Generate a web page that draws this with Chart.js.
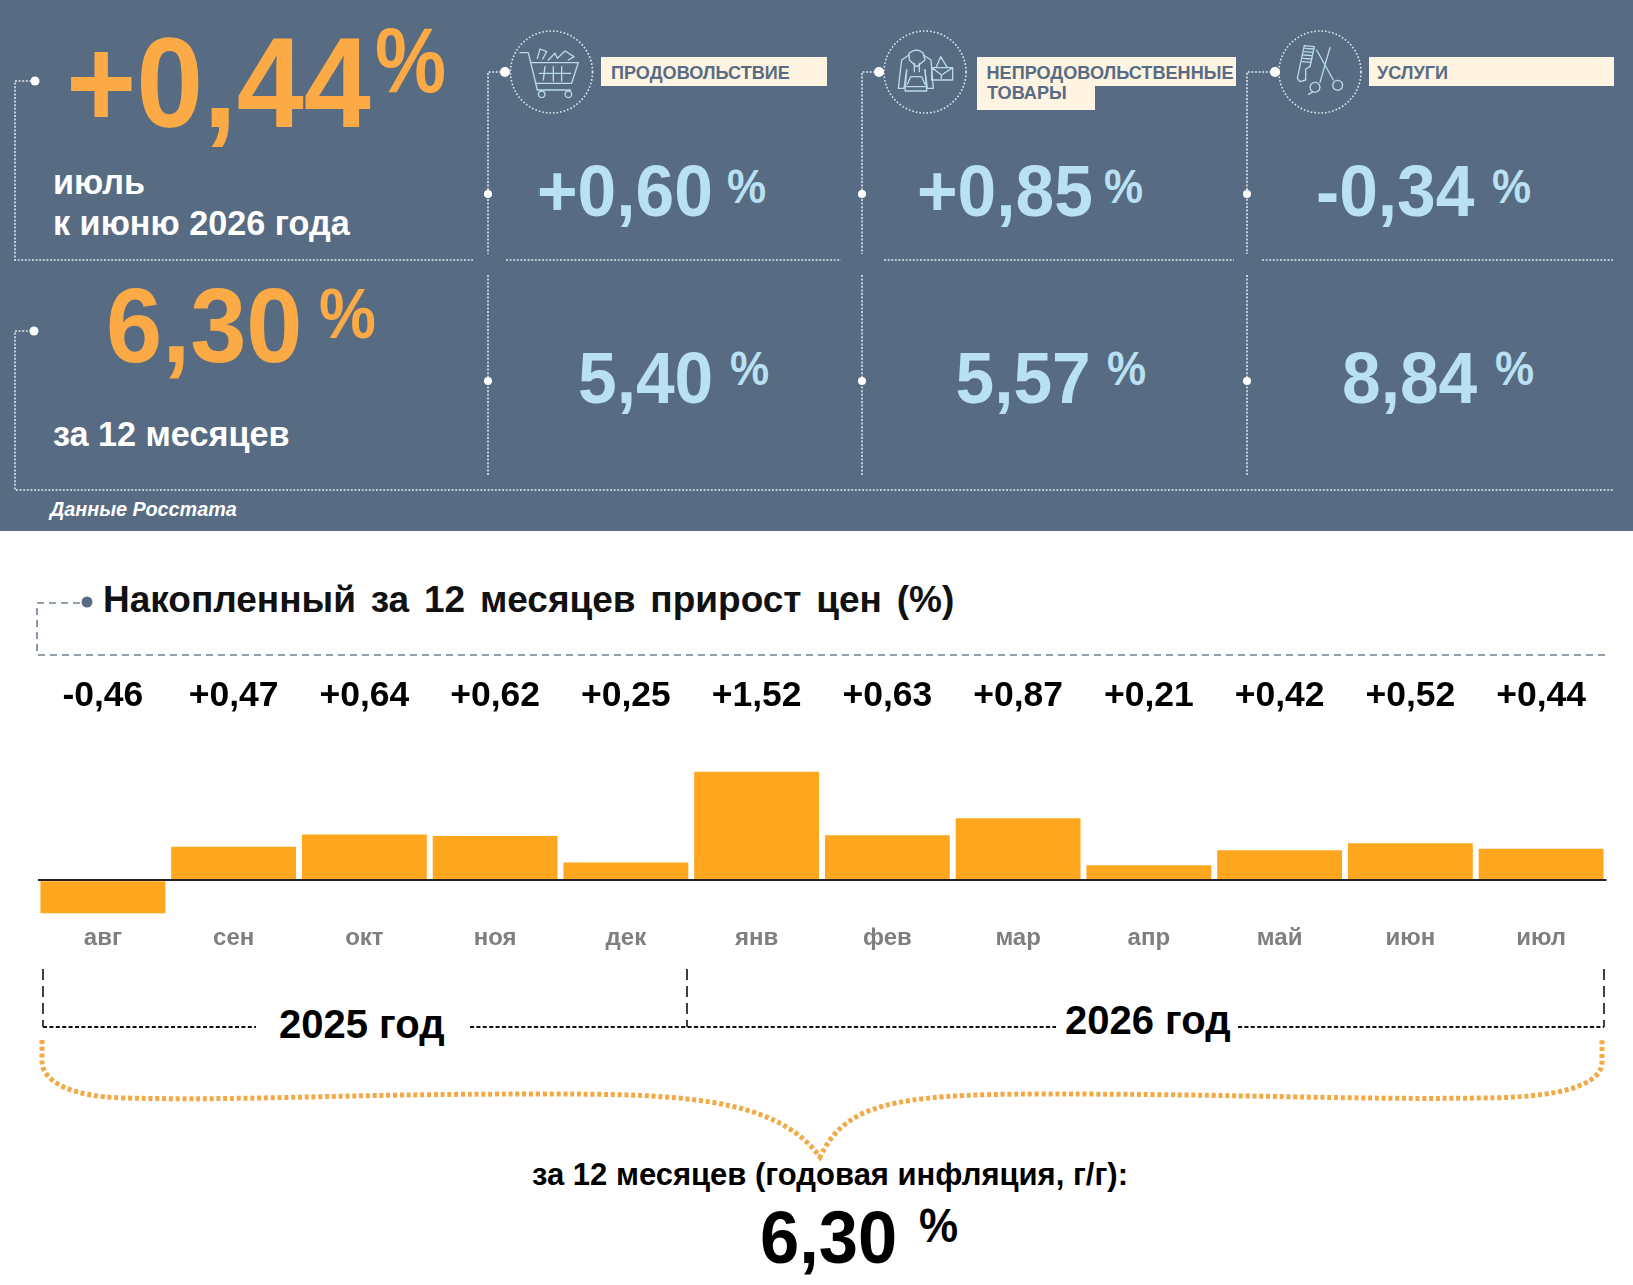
<!DOCTYPE html>
<html lang="ru">
<head>
<meta charset="utf-8">
<title>Инфляция</title>
<script src="https://cdn.jsdelivr.net/npm/chart.js@4"></script>
<style>
  html, body { margin: 0; padding: 0; background: #fff; }
  #page { position: relative; width: 1633px; height: 1285px; overflow: hidden; }
  #panel { position: absolute; left: 0; top: 0; width: 1633px; height: 531px; background: #576c82; }
  #art, #chart { position: absolute; left: 0; top: 0; }
  text { font-family: "Liberation Sans", Arial, sans-serif; font-weight: bold; }
</style>
</head>
<body>
<div id="page">
  <div id="panel"></div>
  <svg id="art" width="1633" height="1285" xmlns="http://www.w3.org/2000/svg"></svg>
  <canvas id="chart" width="1633" height="1285"></canvas>
</div>
<script>
// chart data
const months = ['авг', 'сен', 'окт', 'ноя', 'дек', 'янв', 'фев', 'мар', 'апр', 'май', 'июн', 'июл'];
const monthlyGrowth = [-0.46, 0.47, 0.64, 0.62, 0.25, 1.52, 0.63, 0.87, 0.21, 0.42, 0.52, 0.44];

// header figures
const headline = '+0,44';
const headlineYear = '6,30';
const categoryNames = ['ПРОДОВОЛЬСТВИЕ', 'НЕПРОДОВОЛЬСТВЕННЫЕ', 'УСЛУГИ'];
const categoryMonth = ['+0,60', '+0,85', '-0,34'];
const categoryYear = ['5,40', '5,57', '8,84'];

const ORANGE = '#fbaa46';
const BLUE = '#b9e1f3';
const SLATE = '#576c82';
const CREAM = '#fff3e2';
const art = document.getElementById('art');

function el(name, attrs, parent) {
    const node = document.createElementNS('http://www.w3.org/2000/svg', name);
    Object.keys(attrs).forEach(k => node.setAttribute(k, attrs[k]));
    (parent || art).appendChild(node);
    return node;
}

// sy stretches a glyph run upward from its baseline, the source figures are a bit tall
function text(x, y, str, size, fill, sy, extra) {
    const node = el('text', Object.assign({
        transform: 'translate(' + x + ' ' + y + ') scale(1 ' + (sy || 1) + ')',
        'font-size': size,
        fill: fill
    }, extra || {}));
    node.textContent = str;
    return node;
}

function line(d, color, width, dash) {
    return el('path', { d: d, fill: 'none', stroke: color, 'stroke-width': width, 'stroke-dasharray': dash });
}

function dot(x, y, r, color) {
    el('circle', { cx: x, cy: y, r: r, fill: color || '#fff' });
}

// --- top panel ---
const DOTTED = '#dfe5ea';
text(66, 127, headline, 120.5, ORANGE, 1.06);
text(375, 92, '%', 80, ORANGE, 1.15);
text(53, 194, 'июль', 34.2, '#fff');
text(53, 235, 'к июню 2026 года', 34.2, '#fff');
text(106, 362, headlineYear, 101, ORANGE, 1.04);
text(319, 338, '%', 64, ORANGE, 1.1);
text(53, 446, 'за 12 месяцев', 34.2, '#fff');
text(50, 516, 'Данные Росстата', 19.8, '#fff', 1, { 'font-style': 'italic' });

line('M35 81 H15 V260 H473', DOTTED, 1.6, '2 1.6');
line('M506 260 H841', DOTTED, 1.6, '2 1.6');
line('M884 260 H1234', DOTTED, 1.6, '2 1.6');
line('M1262 260 H1613', DOTTED, 1.6, '2 1.6');
line('M35 331 H15 V490 H1613', DOTTED, 1.6, '2 1.6');
dot(35, 81, 4.5);
dot(34, 331, 4.5);

const colLine = [488, 862, 1247];
const colDot = [505, 879, 1275];
const colCircle = [551.5, 925, 1320];
const colBoxX = [601, 977, 1369];
const colBoxW = [226, 259, 245];
const colTextX = [611, 986.5, 1377];
const colMonthX = [537, 917, 1316];
const colMonthPct = [727, 1104, 1492];
const colYearX = [578, 955.5, 1342];
const colYearPct = [730, 1107, 1495];

categoryNames.forEach((name, i) => {
    line('M' + colDot[i] + ' 72 H' + colLine[i] + ' V254', DOTTED, 1.6, '2 1.6');
    line('M' + colLine[i] + ' 275 V476', DOTTED, 1.6, '2 1.6');
    dot(colDot[i], 72, 5);
    dot(colLine[i], 194, 4);
    dot(colLine[i], 381, 4);
    el('circle', { cx: colCircle[i], cy: 72, r: 41, fill: 'none', stroke: DOTTED, 'stroke-width': 1.6, 'stroke-dasharray': '1.6 2' });
    el('rect', { x: colBoxX[i], y: 57, width: colBoxW[i], height: 29, fill: CREAM });
    text(colTextX[i], 79, name, 18.1, SLATE);
    text(colMonthX[i], 216, categoryMonth[i], 69.5, BLUE, 1.03);
    text(colMonthPct[i], 203, '%', 44, BLUE, 1.1);
    text(colYearX[i], 403, categoryYear[i], 69.5, BLUE, 1.03);
    text(colYearPct[i], 385, '%', 44, BLUE, 1.1);
});
el('rect', { x: 977, y: 86, width: 118, height: 24, fill: CREAM });
text(987, 99, 'ТОВАРЫ', 18.1, SLATE);

// icons, sketched in 3x crop units
function icon(x, y, parts) {
    const g = el('g', { transform: 'translate(' + x + ' ' + y + ') scale(0.3333)', fill: 'none', stroke: '#b7dbe9', 'stroke-width': 4, 'stroke-linejoin': 'round', 'stroke-linecap': 'round' });
    parts.forEach(d => el('path', { d: d }, g));
}
icon(500, 25, [
    'M60 83 H85 L112 195 H212',
    'M92 113 H235 L215 175 H108',
    'M118 145 H212 M135 125 L130 165 M160 125 V168 M185 125 L185 168',
    'M125 198 a10 10 0 1 0 .1 0 M205 198 a10 10 0 1 0 .1 0',
    'M112 100 L120 72 L140 80 L128 102 M145 105 L165 85 L172 100 M172 100 L195 78 L222 95 L205 105'
]);
icon(870, 25, [
    'M117 85 Q140 65 160 85 L165 105 L140 125 L118 105 Z',
    'M117 90 L95 105 L85 190 H102 L110 135 M160 90 L183 105 L190 190 H172 L165 135',
    'M110 135 L105 198 H170 L165 135 M112 178 L122 155 H155 L165 178 M110 185 H168',
    'M133 115 V140 M148 115 V140',
    'M185 128 H248 V165 H185 Z M185 128 L215 150 L248 128 M198 128 L212 95 L232 128 M214 150 V160'
]);
icon(1265, 25, [
    'M118 62 L148 65 L135 125 L122 132 L122 165 L105 170 L97 160 Z',
    'M120 70 L146 72 M118 80 L144 82 M116 90 L142 92 M114 100 L140 102 M112 110 L138 112',
    'M155 75 L205 165 M195 68 L165 172',
    'M218 166 a15 15 0 1 0 .1 0 M150 172 a15 15 0 1 0 .1 0 M130 208 L145 200'
]);

// --- section title ---
line('M80 603 H37 V655 H1606', '#6d7f91', 1.6, '7 5');
dot(87, 602, 5.5, SLATE);
text(103, 612, 'Накопленный за 12 месяцев прирост цен (%)', 37, '#111', 1, { 'word-spacing': 4.5 });

// --- year brackets ---
['M43 969 V1027', 'M687 969 V1027', 'M1604 969 V1027'].forEach(d => line(d, '#111', 1.6, '11 6'));
['M43 1027 H256', 'M470 1027 H1056', 'M1238 1027 H1604'].forEach(d => line(d, '#111', 2.2, '4 2.4'));
text(279, 1038, '2025 год', 40, '#000');
text(1065, 1034, '2026 год', 40, '#000');

line('M42 1040 V1062 C43 1082 72 1097 125 1098 C250 1101 330 1094 540 1094 C670 1094 775 1095 820 1157 ' +
     'C845 1105 890 1094 1042 1094 C1250 1094 1350 1100 1480 1098 C1560 1098 1602 1085 1602 1062 V1040',
     '#f3aa45', 5, '4 2.8');

text(532, 1185, 'за 12 месяцев (годовая инфляция, г/г):', 31, '#000');
text(760, 1263, headlineYear, 70.5, '#000', 1.05);
text(919, 1242, '%', 44, '#000', 1.1);

// --- bars ---
function formatValue(v) {
    return (v > 0 ? '+' : '') + v.toFixed(2).replace('.', ',');
}

const valueLabels = {
    id: 'valueLabels',
    afterDatasetsDraw(chart) {
        const ctx = chart.ctx;
        const x = chart.scales.x;
        ctx.save();
        ctx.font = 'bold 35.5px "Liberation Sans"';
        ctx.fillStyle = '#000';
        ctx.textAlign = 'center';
        ctx.textBaseline = 'alphabetic';
        monthlyGrowth.forEach((v, i) => ctx.fillText(formatValue(v), x.getPixelForTick(i), 706));
        ctx.restore();
    }
};

new Chart(document.getElementById('chart').getContext('2d'), {
    type: 'bar',
    data: {
        labels: months,
        datasets: [{
            data: monthlyGrowth,
            backgroundColor: '#fda61e',
            barPercentage: 0.955,
            categoryPercentage: 1
        }]
    },
    options: {
        responsive: false,
        animation: false,
        devicePixelRatio: 1,
        layout: { padding: { left: 37.5, right: 26.5, top: 766, bottom: 0 } },
        plugins: { legend: { display: false }, tooltip: { enabled: false } },
        scales: {
            x: {
                grid: { display: false },
                border: { display: false },
                afterFit: scale => { scale.height = 369; },
                ticks: {
                    color: '#7f7f7f',
                    padding: 0,
                    maxRotation: 0,
                    autoSkip: false,
                    font: { family: '"Liberation Sans"', size: 24, weight: 'bold' }
                }
            },
            y: {
                min: -0.5,
                max: 1.6,
                border: { display: false },
                ticks: { display: false, stepSize: 0.5 },
                grid: {
                    z: 1,
                    drawTicks: false,
                    lineWidth: 2,
                    color: c => c.tick.value === 0 ? '#222' : 'transparent'
                }
            }
        }
    },
    plugins: [valueLabels]
});
</script>
</body>
</html>
